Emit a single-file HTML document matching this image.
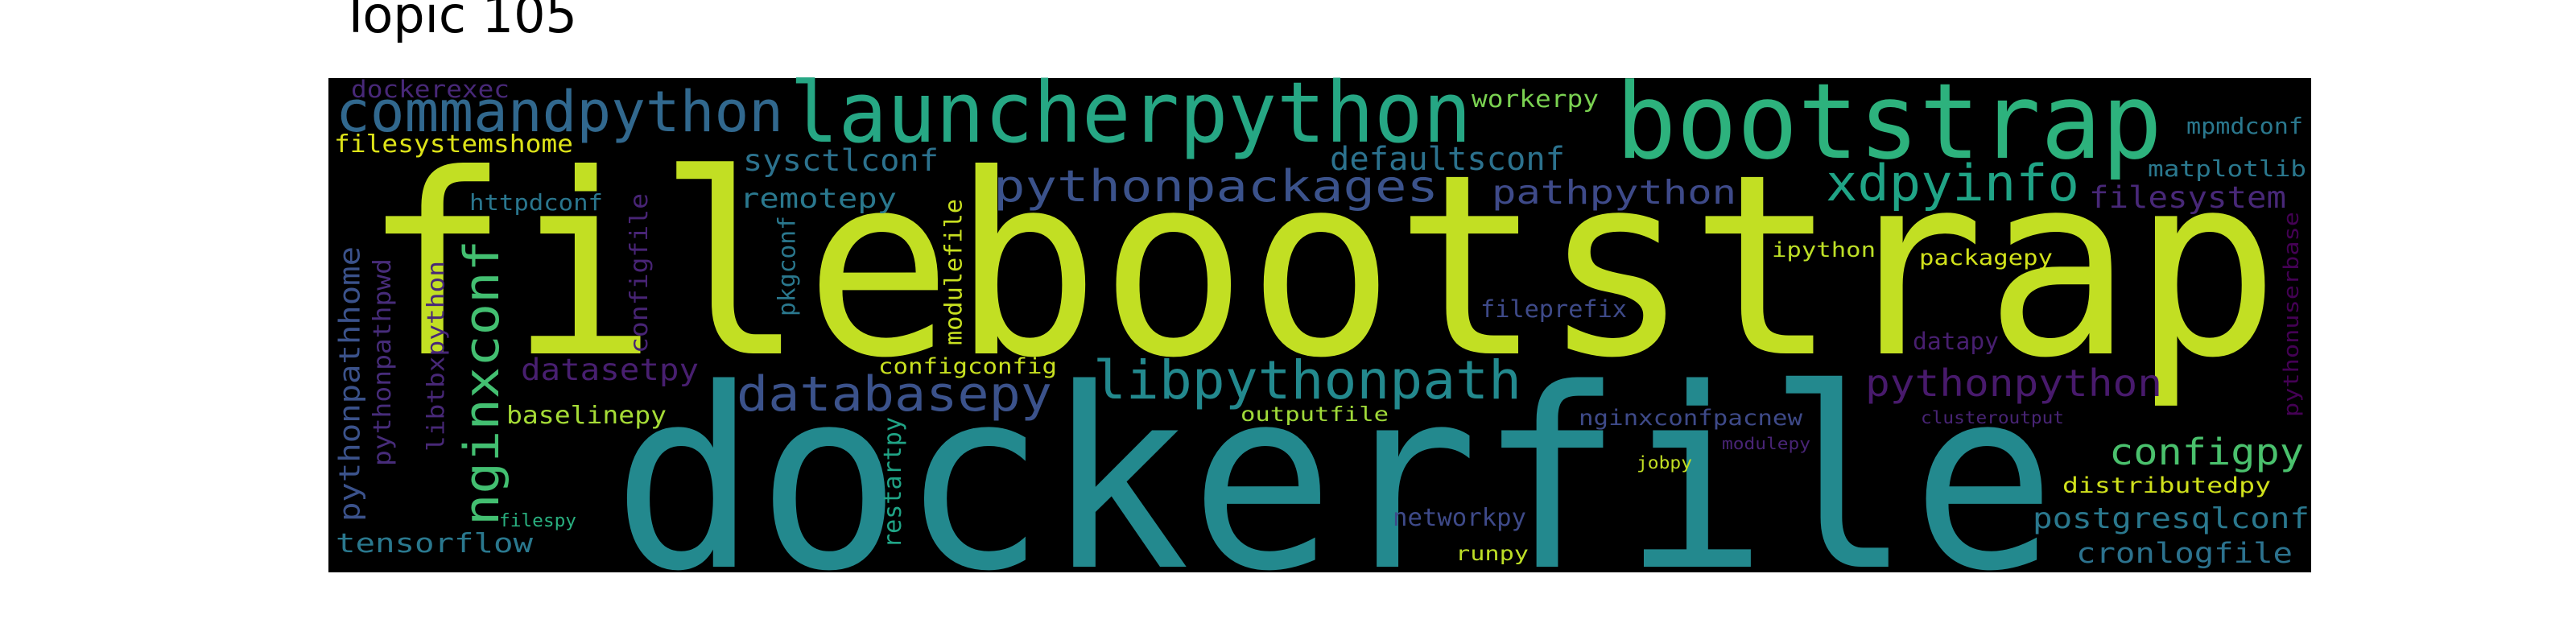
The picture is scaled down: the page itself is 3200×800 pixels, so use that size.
<!DOCTYPE html>
<html><head><meta charset="utf-8"><style>
html,body{margin:0;padding:0;background:#fff;width:3200px;height:800px;overflow:hidden}
svg{display:block}
.title{font-family:"DejaVu Sans","Liberation Sans",sans-serif}
#words text{font-family:"DejaVu Sans Mono","Liberation Mono",monospace}
</style></head><body>
<svg id="chart" width="3200" height="800">
<text class="title" x="423" y="40" font-size="62" fill="#000">Topic 105</text>
<rect x="408" y="97" width="2463" height="614" fill="#000"/>
<g id="words"></g>
</svg>
<script>
const words = ["filebootstrap","dockerfile","launcherpython","bootstrap","commandpython","dockerexec","filesystemshome","sysctlconf","pythonpackages","remotepy","httpdconf","defaultsconf","workerpy","pathpython","xdpyinfo","mpmdconf","matplotlib","filesystem","pythonuserbase","ipython","packagepy","fileprefix","datapy","pythonpython","libpythonpath","databasepy","configconfig","outputfile","nginxconfpacnew","clusteroutput","modulepy","jobpy","configpy","distributedpy","postgresqlconf","cronlogfile","networkpy","runpy","nginxconf","pythonpathhome","pythonpathpwd","libtbxpython","configfile","pkgconf","modulefile","restartpy","datasetpy","baselinepy","filespy","tensorflow"];
const fontSizes = [312,310,104,130,70,29,30,37,54,34,28,40,29,41,62,28,28,37,26,26,27,29,29,46,66,60,27,25,27,21,20,21,45,27,36,35,30,25,60,36,30,29,30,29,29,30,37,30,22,33];
const colors = ["#c2df23","#23898e","#26a784","#2db27d","#31688e","#482878","#dde318","#2c728e","#3b528b","#2a788e","#2a768e","#2c728e","#7ad151","#3e4a89","#20a486","#2a788e","#2a788e","#482878","#440154","#bddf26","#d2e21b","#3e4a89","#481f70","#481a6c","#23898e","#3b528b","#c8e020","#a0da39","#3e4a89","#482475","#482475","#c2df23","#4ac16d","#d0e11c","#2a788e","#2c728e","#3e4a89","#bddf26","#43bf71","#3b528b","#472c7a","#482878","#482475","#2a788e","#c8e020","#20a486","#481f70","#a5db36","#29af7f","#2a788e"];
const vertical = [0,0,0,0,0,0,0,0,0,0,0,0,0,0,0,0,0,0,1,0,0,0,0,0,0,0,0,0,0,0,0,0,0,0,0,0,0,0,1,1,1,1,1,1,1,1,0,0,0,0];
// layout boxes [x0,y0,x1,y1] (baseline for horizontal in y1)
const layout = [[450,202,2832,439],[761,469,2554,704],[981,97,1828,176],[2007,97,2686,196],[417,110,973,163],[436,99,633,121],[415,166,712,189],[923,184,1166,212],[1234,209,1787,250],[919,232,1114,258],[583,240,749,261],[1652,179,1944,211],[1828,111,1986,133],[1853,222,2157,253],[2268,202,2583,249],[2716,145,2861,166],[2668,198,2865,219],[2595,230,2840,258],[2836,263,2861,518],[2201,300,2330,319],[2384,309,2550,329],[1839,372,2021,394],[2376,412,2483,434],[2317,457,2686,492],[1358,444,1890,495],[915,465,1307,510],[1091,444,1313,464],[1541,505,1725,523],[1961,508,2239,528],[2386,510,2564,526],[2139,543,2249,558],[2033,564,2102,582],[2620,543,2862,577],[2562,592,2821,612],[2525,628,2869,656],[2579,673,2848,699],[1730,630,1896,653],[1808,679,1899,696],[571,298,633,653],[421,306,455,648],[463,321,492,579],[529,324,558,561],[782,240,811,439],[965,268,994,393],[1172,247,1201,429],[1093,518,1126,681],[647,444,868,472],[629,503,828,526],[620,635,716,654],[417,661,662,686]];
const g = document.getElementById('words');
const NS = 'http://www.w3.org/2000/svg';
for (let i = 0; i < words.length; i++) {
  const [x0,y0,x1,y1] = layout[i];
  const fs = fontSizes[i];
  const t = document.createElementNS(NS,'text');
  t.textContent = words[i];
  t.setAttribute('font-size', fs);
  t.setAttribute('fill', colors[i]);
  t.setAttribute('lengthAdjust','spacingAndGlyphs');
  if (vertical[i]) {
    const bx = x1 - 0.23*fs;
    t.setAttribute('transform', `translate(${bx},${y1}) rotate(-90)`);
    t.setAttribute('x', 0); t.setAttribute('y', 0);
    t.setAttribute('textLength', y1 - y0);
  } else {
    t.setAttribute('x', x0); t.setAttribute('y', y1);
    t.setAttribute('textLength', x1 - x0);
  }
  
  
  g.appendChild(t);
}
</script>
</body></html>
